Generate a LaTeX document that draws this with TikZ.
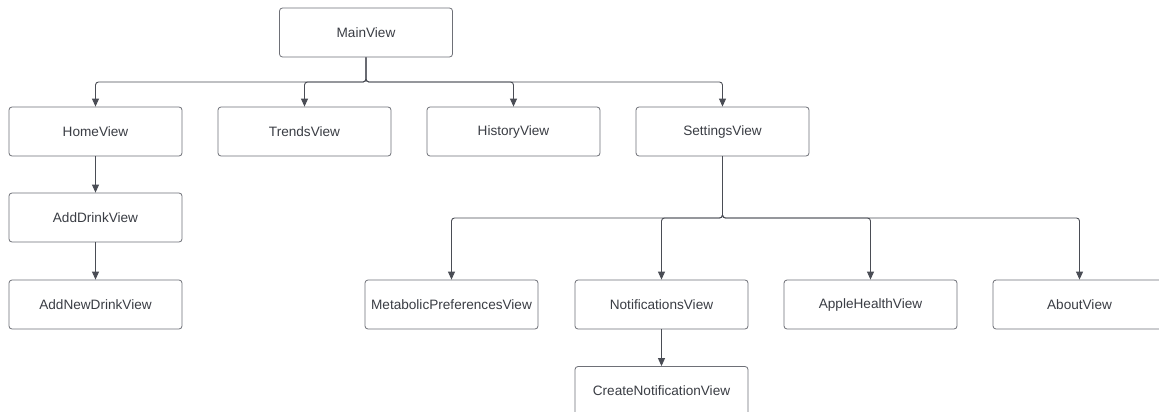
\documentclass[tikz,border=0pt]{standalone}
\usepackage{fontspec}
\setmainfont{Liberation Sans}
\usetikzlibrary{arrows.meta}
\definecolor{linegray}{HTML}{4A4D55}
\definecolor{boxgray}{HTML}{6E7077}
\definecolor{textgray}{HTML}{3A3D44}
\begin{document}
\begin{tikzpicture}[x=1pt,y=-1pt]
\tikzstyle{view}=[draw=boxgray,line width=0.8pt,rounded corners=3pt,minimum width=173pt,minimum height=49pt,inner sep=0pt,text=textgray,font=\fontsize{13.6}{16}\selectfont];
\tikzstyle{link}=[draw=linegray,line width=0.9pt,rounded corners=3pt,-{Triangle[length=8pt,width=7pt]}];
\clip (0,0) rectangle (1159,412);
\fill[white] (0,0) rectangle (1159,412);
\node [view] (main) at (366,32.5) {MainView};

\node [view] (home) at (95.5,131.5) {HomeView};
\node [view] (trends) at (304.5,131.5) {TrendsView};
\node [view] (history) at (513.5,131.5) {HistoryView};
\node [view] (settings) at (722.5,131.5) {SettingsView};

\node [view] (adddrink) at (95.5,217.5) {AddDrinkView};
\node [view] (addnew) at (95.5,304.5) {AddNewDrinkView};

\node [view] (metabolic) at (451.5,304.5) {MetabolicPreferencesView};
\node [view] (notif) at (661.5,304.5) {NotificationsView};
\node [view] (health) at (870.5,304.5) {AppleHealthView};
\node [view] (about) at (1079.5,304.5) {AboutView};
\node [view] (createnotif) at (661.5,391) {CreateNotificationView};

\coordinate (busmain) at (366,82);
\coordinate (busset) at (722.5,218);

\draw [link] (main.south) -- (busmain) -| (home.north);
\draw [link] (main.south) -- (busmain) -| (trends.north);
\draw [link] (main.south) -- (busmain) -| (history.north);
\draw [link] (main.south) -- (busmain) -| (settings.north);

\draw [link] (home) -- (adddrink);
\draw [link] (adddrink) -- (addnew);

\draw [link] (settings.south) -- (busset) -| (metabolic.north);
\draw [link] (settings.south) -- (busset) -| (notif.north);
\draw [link] (settings.south) -- (busset) -| (health.north);
\draw [link] (settings.south) -- (busset) -| (about.north);

\draw [link] (notif) -- (createnotif);
\end{tikzpicture}
\end{document}
